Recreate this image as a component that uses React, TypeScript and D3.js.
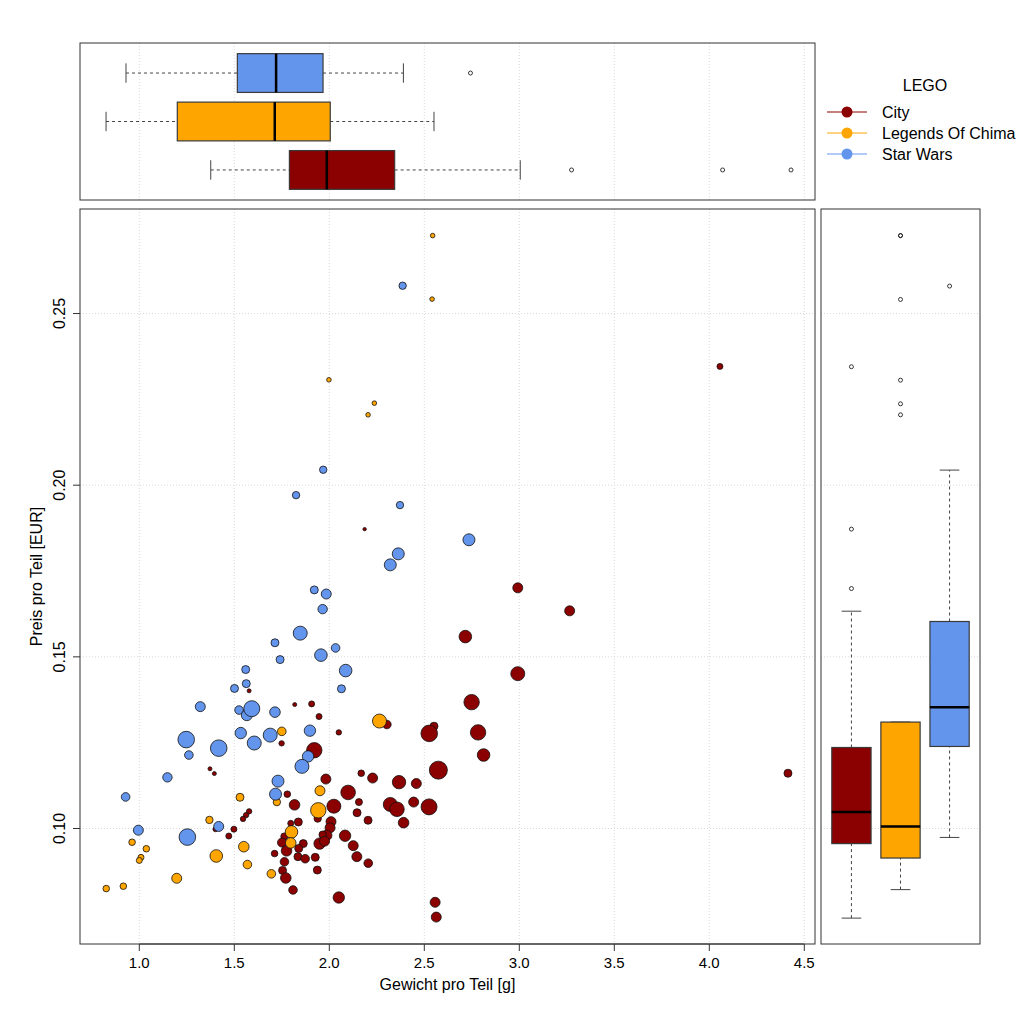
import React from 'react';
import * as d3 from 'd3';

// ---------- data ----------
const serien = ['City', 'Legends Of Chima', 'Star Wars'];
const farben = ['#8B0000', '#FFA500', '#6495ED'];

const cityGewicht = [2.186, 4.056, 2.992, 3.265, 2.716, 2.992, 2.749, 2.551, 2.526, 2.783, 2.812, 2.574, 4.414, 2.458, 2.444, 2.525, 2.391, 2.557, 2.563, 1.578, 1.818, 1.907, 1.946, 1.749, 1.921, 1.372, 1.395, 1.982, 2.050, 2.303, 2.168, 2.228, 2.367, 1.779, 1.817, 2.024, 2.099, 2.156, 2.146, 2.204, 2.321, 2.356, 1.578, 1.562, 1.546, 1.401, 1.498, 1.471, 1.837, 1.797, 1.939, 2.009, 2.004, 1.986, 1.965, 1.949, 1.975, 2.083, 2.126, 2.145, 2.205, 1.763, 1.751, 1.863, 1.775, 1.712, 1.839, 1.835, 1.873, 1.926, 1.764, 1.754, 1.937, 1.771, 1.809, 2.050];
const cityPreis = [0.1872, 0.2346, 0.1701, 0.1634, 0.1559, 0.1451, 0.1368, 0.1298, 0.1277, 0.1280, 0.1214, 0.1170, 0.1161, 0.1131, 0.1077, 0.1063, 0.1017, 0.0785, 0.0742, 0.1401, 0.1361, 0.1363, 0.1326, 0.1248, 0.1228, 0.1174, 0.1160, 0.1144, 0.1280, 0.1303, 0.1161, 0.1147, 0.1135, 0.1100, 0.1069, 0.1065, 0.1105, 0.1077, 0.1046, 0.1024, 0.1070, 0.1056, 0.1050, 0.1039, 0.1028, 0.0998, 0.0998, 0.0978, 0.1019, 0.1015, 0.1029, 0.1020, 0.1002, 0.0980, 0.0982, 0.0956, 0.0963, 0.0979, 0.0950, 0.0918, 0.0899, 0.0977, 0.0959, 0.0956, 0.0935, 0.0927, 0.0942, 0.0918, 0.0912, 0.0916, 0.0903, 0.0878, 0.0879, 0.0856, 0.0821, 0.0799];
const cityTeile = [43, 133, 370, 370, 588, 726, 878, 237, 1020, 878, 588, 1200, 237, 370, 370, 948, 416, 370, 370, 59, 59, 133, 133, 108, 878, 59, 59, 370, 108, 274, 161, 370, 665, 161, 416, 726, 789, 181, 237, 237, 726, 789, 108, 108, 108, 93, 133, 133, 237, 133, 203, 370, 370, 416, 203, 481, 370, 481, 370, 370, 274, 181, 300, 237, 416, 161, 237, 237, 274, 237, 274, 237, 237, 416, 274, 481];

const chimaGewicht = [2.544, 2.541, 1.998, 2.237, 2.204, 1.750, 2.264, 1.951, 1.942, 1.530, 1.724, 1.369, 1.801, 1.797, 0.962, 1.037, 1.009, 1.000, 1.405, 1.550, 1.569, 1.197, 0.826, 0.916, 1.695];
const chimaPreis = [0.2727, 0.2542, 0.2307, 0.2239, 0.2205, 0.1283, 0.1313, 0.1110, 0.1053, 0.1091, 0.1077, 0.1025, 0.0990, 0.0958, 0.0960, 0.0941, 0.0916, 0.0907, 0.0920, 0.0947, 0.0895, 0.0855, 0.0825, 0.0832, 0.0868];
const chimaTeile = [78, 78, 78, 78, 78, 274, 726, 370, 878, 237, 203, 203, 588, 416, 161, 161, 133, 133, 588, 416, 274, 370, 161, 161, 274];

const swGewicht = [2.386, 1.968, 1.825, 2.372, 2.735, 2.363, 2.321, 1.921, 1.984, 1.965, 1.847, 1.714, 2.033, 1.956, 1.741, 2.086, 2.064, 1.560, 1.563, 1.501, 1.321, 1.525, 1.566, 1.592, 1.714, 1.534, 1.689, 1.605, 1.247, 1.261, 1.418, 1.898, 1.888, 1.856, 1.148, 1.730, 0.928, 1.717, 1.418, 0.995, 1.253];
const swPreis = [0.2581, 0.2045, 0.1971, 0.1942, 0.1841, 0.1800, 0.1768, 0.1695, 0.1683, 0.1639, 0.1569, 0.1541, 0.1526, 0.1505, 0.1492, 0.1460, 0.1407, 0.1463, 0.1422, 0.1408, 0.1355, 0.1345, 0.1330, 0.1349, 0.1339, 0.1278, 0.1272, 0.1249, 0.1259, 0.1214, 0.1234, 0.1285, 0.1210, 0.1181, 0.1149, 0.1138, 0.1092, 0.1100, 0.1006, 0.0995, 0.0975];
const swTeile = [203, 203, 203, 203, 533, 533, 533, 237, 370, 327, 726, 237, 274, 588, 237, 588, 237, 237, 237, 237, 370, 274, 448, 948, 416, 481, 726, 726, 1020, 274, 1020, 481, 481, 726, 327, 533, 274, 533, 370, 370, 1020];

const xTicks = [1.0, 1.5, 2.0, 2.5, 3.0, 3.5, 4.0, 4.5];
const yTicks = [0.10, 0.15, 0.20, 0.25];

// box statistics: [lower whisker, Q1, median, Q3, upper whisker]
const gewichtBox = [
  [1.376, 1.790, 1.987, 2.344, 3.005],
  [0.825, 1.200, 1.713, 2.005, 2.551],
  [0.930, 1.516, 1.720, 1.967, 2.390],
];
const gewichtAusreisser = [[3.275, 4.070, 4.430], [], [2.743]];
const preisBox = [
  [0.0739, 0.0956, 0.1048, 0.1236, 0.1633],
  [0.0822, 0.0914, 0.1006, 0.1310, 0.1310],
  [0.0974, 0.1239, 0.1353, 0.1603, 0.2044],
];
const preisAusreisser = [[0.2345, 0.1872, 0.1699], [0.2727, 0.2727, 0.2541, 0.2306, 0.2237, 0.2205], [0.2580]];

// ---------- layout ----------
const main = { l: 80, r: 815, t: 209, b: 944 };
const topP = { l: 80, r: 815, t: 43, b: 200 };
const rightP = { l: 821, r: 980, t: 209, b: 944 };
const FONT = 'Liberation Sans, Arial, sans-serif';

export default function App() {
  const x = d3.scaleLinear().domain([0.6879, 4.5563]).range([main.l, main.r]);
  const y = d3.scaleLinear().domain([0.06636, 0.28045]).range([main.b, main.t]);
  const rS = d3.scaleSqrt().domain([0, 1200]).range([0, 9]);
  const topPos = d3.scaleLinear().domain([0.38, 3.62]).range([topP.b, topP.t]);
  const rightPos = d3.scaleLinear().domain([0.38, 3.62]).range([rightP.l, rightP.r]);

  const daten = [
    { g: cityGewicht, p: cityPreis, t: cityTeile },
    { g: chimaGewicht, p: chimaPreis, t: chimaTeile },
    { g: swGewicht, p: swPreis, t: swTeile },
  ];

  const gridStyle = { stroke: '#d9d9d9', strokeWidth: 1, strokeDasharray: '1,2' };
  const boxStroke = '#3a3a3a';
  const halfTop = (topPos(0) - topPos(0.4));
  const halfRight = (rightPos(0.4) - rightPos(0));

  return (
    <svg width={1024} height={1024} style={{ position: 'absolute', left: 0, top: 0, background: '#fff' }} fontFamily={FONT}>
      <rect x={0} y={0} width={1024} height={1024} fill="#fff" />

      {/* ---------- top boxplot (Gewicht) ---------- */}
      <g>
        {xTicks.map((t) => (
          <line key={'tg' + t} x1={x(t)} x2={x(t)} y1={topP.t} y2={topP.b} {...gridStyle} />
        ))}
        {gewichtBox.map((s, i) => {
          const c = topPos(i + 1);
          const h = halfTop;
          return (
            <g key={'tb' + i}>
              <line x1={x(s[0])} x2={x(s[1])} y1={c} y2={c} stroke="#444" strokeDasharray="3,3" />
              <line x1={x(s[3])} x2={x(s[4])} y1={c} y2={c} stroke="#444" strokeDasharray="3,3" />
              <line x1={x(s[0])} x2={x(s[0])} y1={c - h / 2} y2={c + h / 2} stroke="#444" />
              <line x1={x(s[4])} x2={x(s[4])} y1={c - h / 2} y2={c + h / 2} stroke="#444" />
              <rect x={x(s[1])} y={c - h} width={x(s[3]) - x(s[1])} height={2 * h} fill={farben[i]} stroke={boxStroke} strokeWidth={1.2} />
              <line x1={x(s[2])} x2={x(s[2])} y1={c - h} y2={c + h} stroke="#000" strokeWidth={2.5} />
              {gewichtAusreisser[i].map((o, j) => (
                <circle key={j} cx={x(o)} cy={c} r={2} fill="none" stroke="#222" strokeWidth={0.9} />
              ))}
            </g>
          );
        })}
        <rect x={topP.l} y={topP.t} width={topP.r - topP.l} height={topP.b - topP.t} fill="none" stroke="#333" strokeWidth={1} />
      </g>

      {/* ---------- main scatter ---------- */}
      <g>
        {xTicks.map((t) => (
          <line key={'mg' + t} x1={x(t)} x2={x(t)} y1={main.t} y2={main.b} {...gridStyle} />
        ))}
        {yTicks.map((t) => (
          <line key={'mh' + t} x1={main.l} x2={main.r} y1={y(t)} y2={y(t)} {...gridStyle} />
        ))}
        {daten.map((d, i) => (
          <g key={'s' + i}>
            {d.g.map((gv, j) => (
              <circle key={j} cx={x(gv)} cy={y(d.p[j])} r={rS(d.t[j])} fill={farben[i]} stroke="#111" strokeWidth={0.8} />
            ))}
          </g>
        ))}
        <rect x={main.l} y={main.t} width={main.r - main.l} height={main.b - main.t} fill="none" stroke="#333" strokeWidth={1} />
        {/* x axis */}
        <line x1={x(xTicks[0])} x2={x(xTicks[xTicks.length - 1])} y1={main.b} y2={main.b} stroke="#333" />
        {xTicks.map((t) => (
          <g key={'xt' + t}>
            <line x1={x(t)} x2={x(t)} y1={main.b} y2={main.b + 7} stroke="#333" />
            <text x={x(t)} y={main.b + 24} textAnchor="middle" fontSize={15} fill="#000">{d3.format('.1f')(t)}</text>
          </g>
        ))}
        <text x={(main.l + main.r) / 2} y={main.b + 46} textAnchor="middle" fontSize={16} fill="#000">Gewicht pro Teil [g]</text>
        {/* y axis */}
        {yTicks.map((t) => (
          <g key={'yt' + t}>
            <line x1={main.l - 7} x2={main.l} y1={y(t)} y2={y(t)} stroke="#333" />
            <text transform={`translate(${main.l - 15},${y(t)}) rotate(-90)`} textAnchor="middle" fontSize={16} fill="#000">{d3.format('.2f')(t)}</text>
          </g>
        ))}
        <text transform={`translate(${42},${(main.t + main.b) / 2}) rotate(-90)`} textAnchor="middle" fontSize={16} fill="#000">Preis pro Teil [EUR]</text>
      </g>

      {/* ---------- right boxplot (Preis) ---------- */}
      <g>
        {yTicks.map((t) => (
          <line key={'rg' + t} x1={rightP.l} x2={rightP.r} y1={y(t)} y2={y(t)} {...gridStyle} />
        ))}
        {preisBox.map((s, i) => {
          const c = rightPos(i + 1);
          const w = halfRight;
          return (
            <g key={'rb' + i}>
              <line x1={c} x2={c} y1={y(s[0])} y2={y(s[1])} stroke="#444" strokeDasharray="3,3" />
              <line x1={c} x2={c} y1={y(s[3])} y2={y(s[4])} stroke="#444" strokeDasharray="3,3" />
              <line x1={c - w / 2} x2={c + w / 2} y1={y(s[0])} y2={y(s[0])} stroke="#444" />
              <line x1={c - w / 2} x2={c + w / 2} y1={y(s[4])} y2={y(s[4])} stroke="#444" />
              <rect x={c - w} y={y(s[3])} width={2 * w} height={y(s[1]) - y(s[3])} fill={farben[i]} stroke={boxStroke} strokeWidth={1.2} />
              <line x1={c - w} x2={c + w} y1={y(s[2])} y2={y(s[2])} stroke="#000" strokeWidth={2.5} />
              {preisAusreisser[i].map((o, j) => (
                <circle key={j} cx={c} cy={y(o)} r={2} fill="none" stroke="#222" strokeWidth={0.9} />
              ))}
            </g>
          );
        })}
        <rect x={rightP.l} y={rightP.t} width={rightP.r - rightP.l} height={rightP.b - rightP.t} fill="none" stroke="#333" strokeWidth={1} />
      </g>

      {/* ---------- legend ---------- */}
      <g>
        <text x={925} y={91} textAnchor="middle" fontSize={16} fill="#000">LEGO</text>
        {serien.map((s, i) => {
          const ly = 112 + i * 21;
          return (
            <g key={'lg' + i}>
              <line x1={827} x2={867} y1={ly} y2={ly} stroke={farben[i]} strokeWidth={1} />
              <circle cx={847} cy={ly} r={5.5} fill={farben[i]} />
              <text x={882} y={ly + 6} fontSize={16} fill="#000">{s}</text>
            </g>
          );
        })}
      </g>
    </svg>
  );
}
